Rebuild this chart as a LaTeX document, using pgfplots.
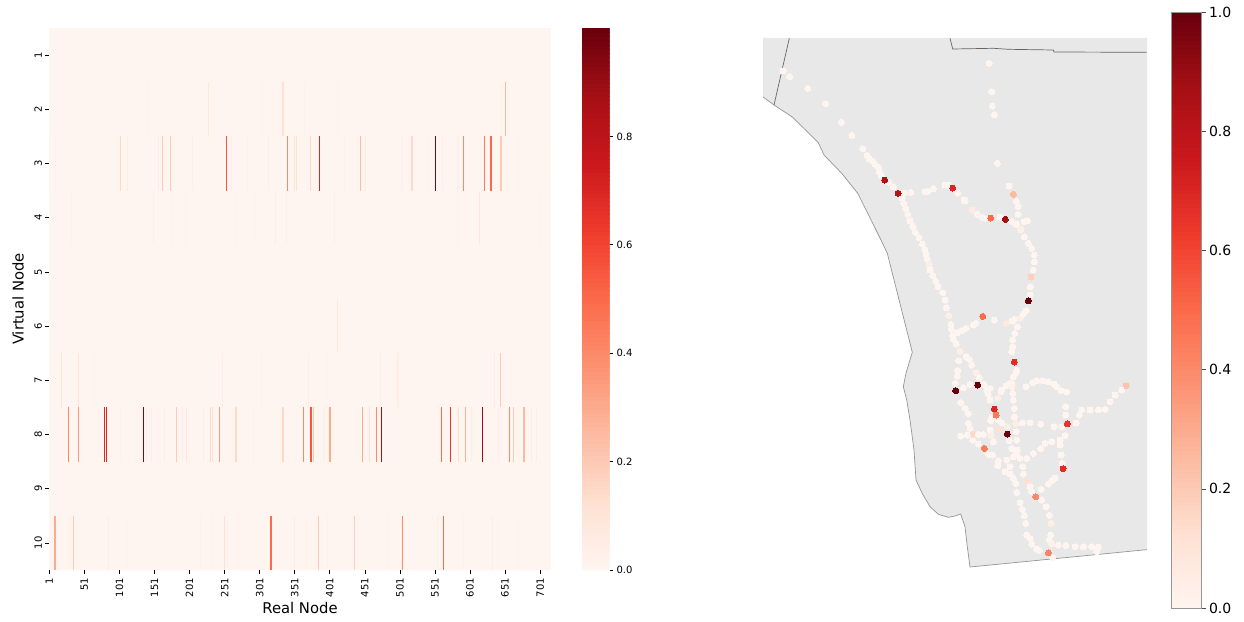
\documentclass[border=0pt]{standalone}
\usepackage{fontspec}
\setmainfont{DejaVu Sans}
\usepackage{pgfplots}
\usepackage{pgfplotstable}
\pgfplotsset{compat=1.18}
\pgfplotsset{colormap={mplreds}{
  rgb255(0)=(255,245,240) rgb255(1)=(254,224,210) rgb255(2)=(252,187,161)
  rgb255(3)=(252,146,114) rgb255(4)=(251,106,74) rgb255(5)=(239,59,44)
  rgb255(6)=(203,24,29) rgb255(7)=(165,15,21) rgb255(8)=(103,0,13)}}
\definecolor{bgreds}{RGB}{255,245,240}
\definecolor{landgray}{RGB}{232,232,232}
\definecolor{edgegray}{RGB}{150,150,150}
\pgfdeclareplotmark{vstrip}{%
  \pgfpathrectanglecorners{\pgfpoint{-0.5*\stripw pt}{-27.1pt}}{\pgfpoint{0.5*\stripw pt}{27.1pt}}%
  \pgfusepathqfill}
\pgfplotstableread{
node row w v
141 2 1 .03
228 2 1 .08
305 2 1 .03
334 2 2 .12
364 2 1 .03
412 2 1 .03
651 2 1.5 .25
9 3 1 .02
103 3 1.5 .15
112 3 1 .06
157 3 1 .06
163 3 1.5 .2
174 3 2 .2
205 3 1 .04
230 3 1 .02
253 3 1.5 .55
261 3 1 .04
283 3 1 .03
313 3 1 .04
341 3 2 .4
350 3 1 .1
353 3 1 .12
373 3 1 .15
386 3 1 .7
422 3 1 .03
445 3 2 .25
451 3 1 .04
505 3 1 .04
518 3 2 .15
541 3 1 .03
551 3 1 .95
562 3 1 .04
584 3 1 .05
592 3 1.5 .4
621 3 1.5 .45
631 3 2 .5
645 3 2 .2
670 3 1 .03
713 3 1 .02
33 4 1 .03
57 4 1 .01
149 4 1 .04
175 4 1 .03
195 4 1 .03
268 4 1 .03
295 4 1 .02
324 4 1.5 .05
339 4 1 .04
408 4 1 .04
583 4 1 .03
614 4 1 .08
700 4 1 .03
371 5 1 .01
434 5 1 .01
412 6 1.2 .08
19 7 1.5 .1
42 7 1.5 .1
65 7 1 .03
225 7 1 .01
248 7 1 .05
304 7 1 .03
370 7 1 .04
398 7 1 .02
473 7 1 .05
498 7 2 .05
635 7 1 .06
644 7 1.2 .2
28 8 1.5 .4
42 8 1.5 .35
70 8 1 .02
80 8 1.2 .7
83 8 1.2 .7
102 8 1 .03
127 8 1 .03
135 8 1 .95
140 8 1 .04
147 8 1 .05
156 8 1 .03
165 8 1 .05
182 8 1 .2
190 8 1 .05
197 8 1 .08
220 8 1 .05
231 8 1.5 .15
233 8 1 .12
244 8 2 .35
267 8 2 .15
292 8 1 .03
334 8 2 .15
364 8 1.5 .4
374 8 2 .55
378 8 1.2 .2
393 8 1 .05
401 8 2 .3
447 8 1.5 .3
457 8 1 .12
468 8 1.5 .4
475 8 1.2 .85
560 8 1 .5
573 8 1 .65
585 8 1.5 .12
595 8 1 .28
603 8 1 .05
619 8 1 .9
642 8 1 .04
657 8 1 .4
663 8 1 .2
678 8 1.5 .25
688 8 1 .06
695 8 1 .05
209 9 1 .01
468 9 1 .01
9 10 3 .3
36 10 1.5 .2
85 10 1 .05
112 10 1 .02
217 10 1 .03
232 10 1 .03
250 10 1 .12
271 10 1 .03
288 10 1 .02
303 10 1 .02
317 10 2 .5
350 10 1 .05
368 10 1 .03
384 10 1 .2
398 10 1 .03
436 10 1 .18
485 10 1 .03
505 10 1.5 .4
554 10 1 .05
563 10 1 .5
591 10 1 .03
633 10 1 .05
640 10 1 .03
670 10 1 .03
}\heat
\pgfplotstableread{
x y v
783 71 0
789.7 76.7 0
807.7 88.3 0
825.7 103.7 0
841.3 122.3 0
851.7 135.3 0
862.7 148.7 0
867 155.3 0
869 159 0
872.7 161 0
875 164.3 0
878.3 167.3 0
879.3 171.7 0
881.3 175.7 0
888.7 182 0
893.3 186.7 0
904 193 0
910.7 192.3 0
925 191.7 0
927.7 191.3 0
933.3 188.7 0
945 185 0
948.3 185 0
957.7 193 0
902 198.3 0
903.7 203.3 0
905.7 208.3 0
907.7 214.3 0
909.3 219.7 .06
912.7 226 0
989 63.3 0
991.7 91.7 0
992.3 106 0
994.3 114.7 0
997.3 163.3 0
1009 186 0
1013.3 194.3 .25
1016.3 201.3 0
1018 206.7 0
1018 214.3 0
1025 221.3 0
1027.3 220.7 0
965 201 0
964 200 0
972.3 210 .06
977.3 214.3 0
982.7 217.7 0
985.3 218 0
990.7 218 .5
1000 217 0
1011.7 221.7 0
1016.7 224.3 0
1020.7 228.7 .05
910 221 0
913.3 227.3 0
915.3 232.3 0
919 237.7 0
922.3 244 0
924.7 249.3 0
926 254.7 0
927.3 259.3 0
929 264.3 .04
930 270 0
932.7 275.7 0
935.7 281.3 0
938 286.7 0
942.7 292.7 0
945 300 0
946.3 307.7 0
948.7 315.7 .04
950.7 324.3 0
951.3 329.3 0
952.7 335.7 0
953.3 339.3 0
956.3 344 0
960 351.3 .04
957.3 332.7 0
961.7 330.7 0
966 328.3 0
973.3 325 0
976 323.3 0
982.7 316.3 .5
994.3 320 0
1006 323.3 .07
1012 321 0
1014.3 319.3 0
1020 318.3 .04
1023.3 314 0
1026 310.7 0
1030 295 0
1030.3 286.7 0
1031 277 .18
1033.3 270 0
1034.3 261.7 0
1034.3 255 0
1031.7 248.3 0
1028.3 243.3 0
1024.3 236.7 0
1020.7 230 .04
1016 224 0
1024 221.7 0
1017.3 326.7 0
1014.7 333.3 0
1012.7 340 0
1012.7 346.7 0
1011.7 351.7 0
1016.7 370 0
1013.3 376.7 0
1011.7 383.3 0
958.7 360.7 0
957.7 370.7 0
957.3 376 0
955.3 383.3 0
963.3 387.7 0
970 384.3 0
966 356.7 0
969.3 359.3 0
971.7 365 0
976 372.7 .04
979.3 377.7 0
984 384.3 0
986.7 390 0
990 388.3 0
997.7 398.3 .04
1001.7 390 0
1006 385.7 0
1016 372.7 0
1010 383.3 0
1001 391.7 0
1011.7 386.7 .03
1012.7 393.3 0
1013.3 400 0
1014.3 408.3 0
1014.3 416.7 0
1015.7 423.3 .04
1016 431.7 0
1016.7 440 0
1017.3 450 0
1026 386.7 0
1032.7 382.7 0
1036.7 380.7 0
1042.7 380.7 0
1048.3 381.7 0
1054 384 0
1056.7 386.7 0
1061 390.7 0
1066.7 392 0
1126 385.7 .22
1121.7 390 0
1115 395 0
1110 401.7 0
1105 409.3 0
1098.3 409.7 0
1090 410 0
1081.7 410 0
1079.3 415 0
1065.7 406.7 0
1065.7 415 0
1076 423 0
1061.7 426.7 0
1054 426.7 0
1040.7 424 0
1030 422.7 0
1022.3 422.7 0
1065 435.7 0
1060 440 0
1051.7 441.7 0
1045 443.3 0
1040.7 448.7 0
1033.3 453.3 0
1026.7 458.3 0
1020 458.3 0
1013.3 456.7 0
1006.7 460 0
998.3 460.7 0
997.7 465.7 0
992.7 455 0
988.3 454.3 0
984.3 448.3 .45
978.3 444 0
972.7 440 0
972.3 434.3 .15
967.3 435 0
960.7 436 0
978.3 434.3 0
983.3 434.3 0
990 430 0
991 435.7 .04
993.3 441.7 0
998.7 429.7 .12
1007.3 426.3 .05
1009 440.7 0
1011.7 448.3 0
1016 453.3 0
990.7 420.7 0
991.7 417.7 0
998.3 420 0
1001.7 422.7 0
960.7 402.7 0
965 408.3 0
968.3 413.3 0
968.3 423.3 0
970 428.3 0
988.3 394 0
990 400 0
1010 466.7 0
1005 471.7 0
1010 474 0
1013.3 478.3 0
1015.7 483.3 0
1016.7 492.3 0
1022.7 466.7 0
1023.3 474 0
1027.3 481.7 .12
1030 486.7 0
1031.7 491.7 0
1035.7 496.7 .4
1041 489.3 0
1048.3 484 0
1051.7 480.7 0
1055 478 0
1062 463.3 0
1061 455 0
1060 445 0
1041.7 500 0
1046 506.7 0
1049.3 515.3 0
1051 523.3 .04
1050.7 535 0
1049.3 540 0
1051.7 544 .03
1052.7 557.7 0
1020 502.7 0
1022.3 509.3 0
1024.3 515.7 0
1025.7 523.3 0
1026.7 535 0
1030 538.3 0
1031.7 544 0
1036.7 549 0
1039.3 550.3 0
1058.3 545 0
1065.7 545.3 0
1075 546.7 0
1083.3 546.7 0
1091.7 546.7 0
1098.3 547 0
1096.7 551.7 0
884.7 180 .85
898 193.3 .82
952.7 188 .7
1005.3 219.3 .88
1028.3 300.7 1.0
1014.3 362 .68
955.7 390.7 1.0
977.7 385 1.0
1067.3 423.7 .65
1007.3 434 1.0
994.3 409 .7
996 415 .45
1063 468.7 .68
1048.3 552.7 .42
}\stations
\begin{document}
\begin{tikzpicture}[x=1pt,y=1pt]
\useasboundingbox (0,0) rectangle (1244,621);
% heat map
\begin{axis}[
  at={(49pt,51pt)},anchor=south west,scale only axis,width=502pt,height=542pt,
  xmin=0.5,xmax=716.5,ymin=0.5,ymax=10.5,y dir=reverse,
  axis background/.style={fill=bgreds},
  axis line style={draw=none},
  colormap name=mplreds,point meta min=0,point meta max=1,
  xtick={1,51,...,701},ytick={1,...,10},
  tick pos=left,tick align=outside,
  major tick length=3.5pt,
  tick style={draw=black,line width=.6pt},
  /pgf/number format/assume math mode=true,
  /pgf/number format/1000 sep={},
  tick label style={font=\fontsize{10}{12}\selectfont},
  xticklabel style={rotate=90,anchor=east,xshift=-1pt},
  yticklabel style={rotate=90,anchor=south},
  xlabel={Real Node},ylabel={Virtual Node},
  label style={font=\fontsize{14.8}{18}\selectfont},
  xlabel style={at={(axis description cs:0.5,-0.0795)},anchor=base},
  ylabel style={at={(axis description cs:-0.0505,0.5)},rotate=0,anchor=base},
  colorbar sampled,
  colorbar style={
    samples=129,
    at={(1.0618,1)},anchor=north west,width=27.5pt,height=542pt,
    ytick={0,0.2,0.4,0.6,0.8},
    axis line style={draw=none},
    tick pos=right,tick align=outside,
    major tick length=3.5pt,
    tick style={draw=black,line width=.6pt},
    yticklabel style={font=\fontsize{10}{12}\selectfont,rotate=0,anchor=west,
      /pgf/number format/fixed,/pgf/number format/fixed zerofill,
      /pgf/number format/precision=1,/pgf/number format/assume math mode=true},
  },
]
\addplot[scatter,only marks,mark=vstrip,point meta=explicit,
  visualization depends on={0.701*\thisrow{w} \as \stripw}]
  table[x=node,y=row,meta=v]{\heat};
\end{axis}
% map
\begin{axis}[
  at={(763pt,53pt)},anchor=south west,scale only axis,width=384pt,height=530pt,
  xmin=763,xmax=1147,ymin=38,ymax=568,y dir=reverse,
  axis line style={draw=none},
  xtick=\empty,ytick=\empty,
  colormap name=mplreds,point meta min=0,point meta max=1,
  colorbar sampled,
  colorbar style={
    samples=129,
    at={(1.0625,1.049)},anchor=north west,width=30.5pt,height=596pt,
    ytick={0,0.2,0.4,0.6,0.8,1},
    axis line style={draw=edgegray,line width=.8pt},
    tick pos=right,tick align=outside,
    major tick length=4pt,
    tick style={draw=black!70,line width=.6pt},
    yticklabel style={font=\fontsize{14}{16}\selectfont,rotate=0,anchor=west,
      /pgf/number format/fixed,/pgf/number format/fixed zerofill,
      /pgf/number format/precision=1,/pgf/number format/assume math mode=true},
  },
]
\addplot[fill=landgray,draw=none] coordinates {
 (763,38)(763,97)(774,105)(792.7,117.3)(818.3,142.7)(824,155)(841.7,173.3)(857.7,193.3)
 (876,230)(880,238)(887.3,253.3)(912.3,352.3)(906,373)(903.3,386.7)(906.7,400)
 (910,420)(914,450)(916,480)(922,493)(930,506.7)(938.3,514.3)(948.3,517.3)(955,516)(960.7,514)
 (965,526.7)(967.3,546.7)(970,567)(1140,550.3)(1147,549.7)(1147,38)} \closedcycle;
\addplot[draw=edgegray,line width=.7pt] coordinates {
 (763,97)(774,105)(792.7,117.3)(818.3,142.7)(824,155)(841.7,173.3)(857.7,193.3)
 (876,230)(880,238)(887.3,253.3)(912.3,352.3)(906,373)(903.3,386.7)(906.7,400)
 (910,420)(914,450)(916,480)(922,493)(930,506.7)(938.3,514.3)(948.3,517.3)(955,516)(960.7,514)
 (965,526.7)(967.3,546.7)(970,567)(1140,550.3)(1147,549.7)};
\addplot[draw=black!60,line width=.7pt] coordinates {(789.3,38.3)(774,105)};
\addplot[draw=black!60,line width=.7pt] coordinates {
 (950,38.3)(952.7,49)(993.3,48.3)(1008.3,49.3)(1053.3,50)(1054,52)(1146.7,52.3)};
\addplot[scatter,only marks,mark=*,mark size=3pt,point meta=explicit,
  scatter/use mapped color={draw=mapped color,fill=mapped color},
  mark options={line width=0pt}]
  table[x=x,y=y,meta=v]{\stations};
\end{axis}
\end{tikzpicture}
\end{document}
